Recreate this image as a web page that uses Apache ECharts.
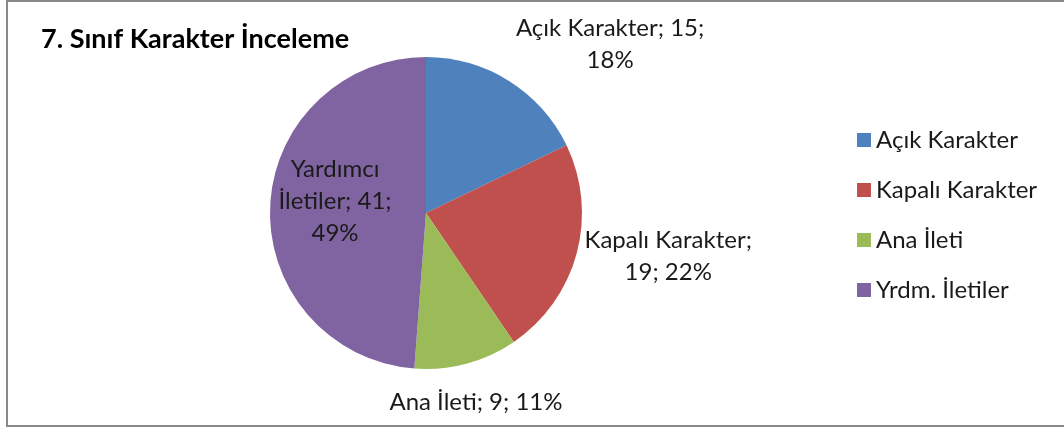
<!DOCTYPE html>
<html>
<head>
    <meta charset="utf-8">
    <title>7. Sınıf Karakter İnceleme</title>
    <script src="https://cdn.jsdelivr.net/npm/echarts@6/dist/echarts.min.js"></script>
    <style>
        html, body { margin: 0; padding: 0; background: #fff; }
        #chart1 { width: 1064px; height: 429px; }
    </style>
</head>
<body>
<div id="chart1"></div>
<script type="text/javascript">
    // verileri
    var categories = ['Açık Karakter', 'Kapalı Karakter', 'Ana İleti', 'Yrdm. İletiler'];
    var labelNames = ['Açık Karakter', 'Kapalı Karakter', 'Ana İleti', 'Yardımcı İletiler'];
    var values = [15, 19, 9, 41];
    var percents = ['18%', '22%', '11%', '49%'];

    var colors = ['#4F81BD', '#C0504D', '#9BBB59', '#8064A2'];
    var font = 'Lato, "Open Sans", sans-serif';

    // etiket yerleşimi (Excel'deki gibi): dilim ortasından kaydırma, satır kırılan kelimeler
    var labelStyles = [
        {offset: [141, -100], breaks: [3]},
        {offset: [164, 22], breaks: [2]},
        {offset: [29, 111], breaks: []},
        {offset: [-10, -9], breaks: [1, 3]}
    ];

    function labelText(i) {
        var words = (labelNames[i] + '; ' + values[i] + '; ' + percents[i]).split(' ');
        var out = words[0];
        for (var k = 1; k < words.length; k++) {
            out += (labelStyles[i].breaks.indexOf(k) >= 0 ? '\n' : ' ') + words[k];
        }
        return out;
    }

    var pieData = categories.map(function (c, i) {
        return {
            name: c,
            value: values[i],
            itemStyle: {color: colors[i]},
            label: {offset: labelStyles[i].offset}
        };
    });

    var myChart1 = echarts.init(document.getElementById('chart1'));
    myChart1.setOption({
        animation: false,
        backgroundColor: '#fff',
        title: {
            text: '7. Sınıf Karakter İnceleme',
            left: 36,
            top: 21,
            textStyle: {fontFamily: font, fontSize: 27, fontWeight: 'bold', color: '#000'}
        },
        legend: {
            orient: 'vertical',
            left: 852,
            top: 123,
            itemWidth: 14,
            itemHeight: 14,
            itemGap: 26,
            icon: 'rect',
            data: categories,
            textStyle: {fontFamily: font, fontSize: 24, color: '#1a1a1a', lineHeight: 23}
        },
        graphic: [{
            type: 'rect',
            shape: {x: 7, y: 1, width: 1100, height: 425},
            style: {fill: 'none', stroke: '#888', lineWidth: 2},
            silent: true
        }],
        series: [{
            name: '7. Sınıf',
            type: 'pie',
            center: [426, 213],
            radius: 156,
            startAngle: 90,
            clockwise: true,
            data: pieData,
            itemStyle: {borderWidth: 0},
            label: {
                position: 'inside',
                fontFamily: font,
                fontSize: 24,
                lineHeight: 32,
                color: '#1a1a1a',
                formatter: function (p) {
                    return labelText(p.dataIndex);
                }
            },
            labelLine: {show: false}
        }]
    });
</script>
</body>
</html>
